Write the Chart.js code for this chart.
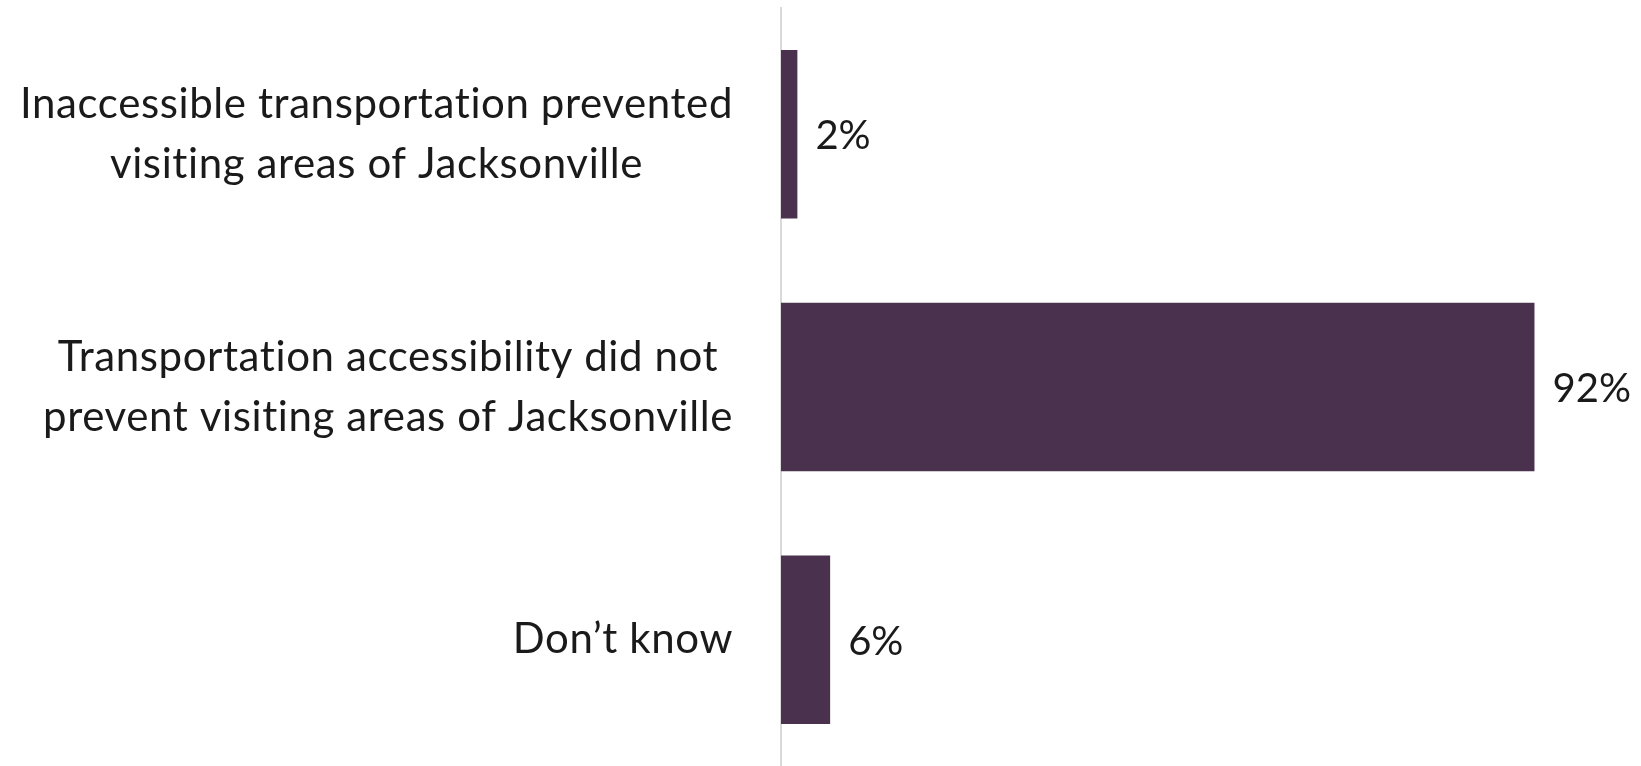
<!DOCTYPE html>
<html>
<head>
<meta charset="utf-8">
<script src="https://cdn.jsdelivr.net/npm/chart.js@4/dist/chart.umd.min.js"></script>
<style>
  html, body { margin: 0; padding: 0; background: #fff; }
  #wrap { width: 1641px; height: 766px; position: relative; }
</style>
</head>
<body>
<div id="wrap"><canvas id="barChart"></canvas></div>
<script>
const categories = [
  ['Inaccessible transportation prevented', 'visiting areas of Jacksonville'],
  ['Transportation accessibility did not', 'prevent visiting areas of Jacksonville'],
  ['Don\u2019t know']
];
const values = [2, 92, 6];
const valueLabels = ['2%', '92%', '6%'];

const CAT_FONT = '42px Lato, "Open Sans", sans-serif';
const VAL_FONT = '40px Lato, "Open Sans", sans-serif';

// draws the category labels (right-aligned blocks, centred lines) and the value labels
const labelPlugin = {
  id: 'labels',
  afterDatasetsDraw(chart) {
    const ctx = chart.ctx;
    const yScale = chart.scales.y;
    const meta = chart.getDatasetMeta(0);
    ctx.save();
    ctx.fillStyle = '#1a1a1a';
    ctx.textBaseline = 'middle';
    ctx.font = CAT_FONT;
    ctx.letterSpacing = '0.6px';
    const lineH = 60;
    categories.forEach((lines, i) => {
      const cy = yScale.getPixelForTick(i);
      const widths = lines.map(l => ctx.measureText(l).width);
      const blockW = Math.max(...widths);
      const right = chart.chartArea.left - 48;
      const centerX = right - blockW / 2;
      ctx.textAlign = 'center';
      lines.forEach((l, j) => {
        const y = cy + (j - (lines.length - 1) / 2) * lineH;
        ctx.fillText(l, centerX, y);
      });
    });
    ctx.font = VAL_FONT;
    ctx.letterSpacing = '0px';
    ctx.textAlign = 'left';
    meta.data.forEach((bar, i) => {
      ctx.fillText(valueLabels[i], bar.x + 18, bar.y + 2);
    });
    ctx.restore();
  }
};

document.addEventListener('DOMContentLoaded', () => {
  const ctx = document.getElementById('barChart').getContext('2d');

  const barChart = new Chart(ctx, {
    type: 'bar',
    data: {
      labels: categories,
      datasets: [{
        data: values,
        backgroundColor: '#4a314e',
        borderWidth: 0,
        categoryPercentage: 1,
        barPercentage: 0.667,
      }],
    },
    options: {
      indexAxis: 'y',
      responsive: true,
      maintainAspectRatio: false,
      animation: false,
      layout: {
        padding: { top: 8, right: 41, bottom: 0, left: 0 },
      },
      plugins: {
        legend: { display: false },
        tooltip: { enabled: false },
      },
      scales: {
        x: {
          display: false,
          min: 0,
          max: 100,
        },
        y: {
          grid: { display: false },
          border: { display: true, color: '#d9d9d9', width: 2 },
          ticks: { display: false },
          afterFit(scale) {
            scale.width = 781;
          },
        },
      },
    },
    plugins: [labelPlugin],
  });
});
</script>
</body>
</html>
